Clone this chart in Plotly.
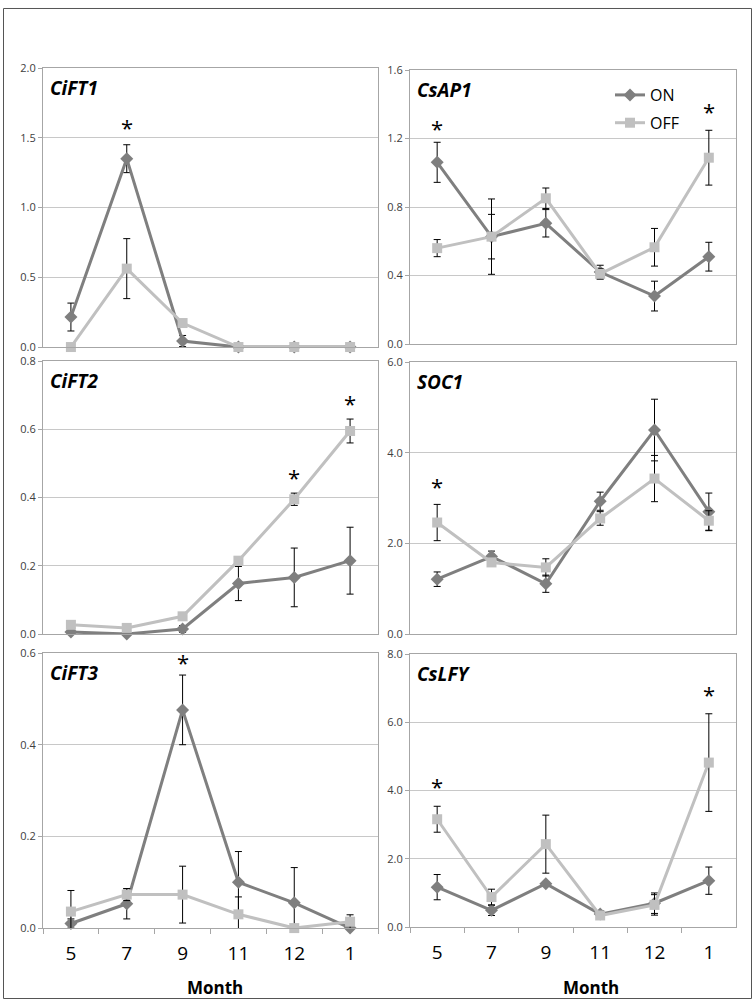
import plotly.graph_objects as go

W, H = 756, 1006
# the photographed page appears as y_shot = 8 + 0.985 * y_page; positions below
# are given in reference-image pixels and mapped back to page pixels.
OY, SY = 8.0, 0.985

months = ['5', '7', '9', '11', '12', '1']

# CiFT1
cift1_on = [0.215, 1.35, 0.043, 0.0, 0.0, 0.0]
cift1_on_err = [0.10, 0.10, 0.04, 0.0, 0.0, 0.0]
cift1_off = [0.0, 0.562, 0.172, 0.0, 0.0, 0.0]
cift1_off_err = [0.0, 0.215, 0.0, 0.0, 0.0, 0.0]
cift1_stars = [('7', 1.58)]

# CsAP1
csap1_on = [1.061, 0.627, 0.705, 0.42, 0.28, 0.51]
csap1_on_err = [0.117, 0.13, 0.08, 0.04, 0.087, 0.084]
csap1_off = [0.56, 0.627, 0.851, 0.41, 0.565, 1.088]
csap1_off_err = [0.05, 0.22, 0.06, 0.03, 0.11, 0.16]
csap1_stars = [('5', 1.26), ('1', 1.36)]

# CiFT2
cift2_on = [0.006, 0.0, 0.015, 0.148, 0.166, 0.215]
cift2_on_err = [0.005, 0.003, 0.01, 0.05, 0.086, 0.098]
cift2_off = [0.027, 0.018, 0.052, 0.215, 0.395, 0.595]
cift2_off_err = [0.005, 0.005, 0.005, 0.01, 0.018, 0.035]
cift2_stars = [('12', 0.46), ('1', 0.677)]

# SOC1
soc1_on = [1.21, 1.71, 1.11, 2.93, 4.5, 2.70]
soc1_on_err = [0.16, 0.12, 0.19, 0.2, 0.68, 0.41]
soc1_off = [2.46, 1.58, 1.47, 2.55, 3.43, 2.5]
soc1_off_err = [0.40, 0.06, 0.19, 0.15, 0.51, 0.22]
soc1_stars = [('5', 3.26)]

# CiFT3
cift3_on = [0.01, 0.053, 0.476, 0.1, 0.055, 0.0]
cift3_on_err = [0.01, 0.033, 0.076, 0.067, 0.077, 0.005]
cift3_off = [0.036, 0.073, 0.073, 0.03, 0.0, 0.014]
cift3_off_err = [0.046, 0.013, 0.062, 0.038, 0.0, 0.015]
cift3_stars = [('9', 0.58)]

# CsLFY
cslfy_on = [1.17, 0.49, 1.27, 0.38, 0.70, 1.36]
cslfy_on_err = [0.37, 0.15, 0.05, 0.1, 0.3, 0.4]
cslfy_off = [3.16, 0.88, 2.43, 0.34, 0.65, 4.82]
cslfy_off_err = [0.38, 0.23, 0.85, 0.1, 0.3, 1.43]
cslfy_stars = [('5', 4.13), ('1', 6.83)]

ON_COLOR = '#7f7f7f'
OFF_COLOR = '#c0c0c0'
FRAME = '#a6a6a6'
GRID = '#c8c8c8'
FONT = 'Open Sans'


def px_x(p):
    return min(max(p / W, 0.0), 1.0)


def page_y(p):
    return min(max((p - OY) / SY, 0.5), H - 0.5)


def px_y(p):
    return 1 - page_y(p) / H


panels = [
    dict(name='CiFT1', on=cift1_on, on_err=cift1_on_err, off=cift1_off, off_err=cift1_off_err,
         stars=cift1_stars, yr=[0, 2.0], dt=0.5, xd=(43, 378), yd=(68, 347), bottom=False),
    dict(name='CsAP1', on=csap1_on, on_err=csap1_on_err, off=csap1_off, off_err=csap1_off_err,
         stars=csap1_stars, yr=[0, 1.6], dt=0.4, xd=(410, 736), yd=(70, 344), bottom=False),
    dict(name='CiFT2', on=cift2_on, on_err=cift2_on_err, off=cift2_off, off_err=cift2_off_err,
         stars=cift2_stars, yr=[0, 0.8], dt=0.2, xd=(43, 378), yd=(361, 634), bottom=False),
    dict(name='SOC1', on=soc1_on, on_err=soc1_on_err, off=soc1_off, off_err=soc1_off_err,
         stars=soc1_stars, yr=[0, 6.0], dt=2.0, xd=(410, 736), yd=(362, 634), bottom=False),
    dict(name='CiFT3', on=cift3_on, on_err=cift3_on_err, off=cift3_off, off_err=cift3_off_err,
         stars=cift3_stars, yr=[0, 0.6], dt=0.2, xd=(43, 378), yd=(653, 928), bottom=True),
    dict(name='CsLFY', on=cslfy_on, on_err=cslfy_on_err, off=cslfy_off, off_err=cslfy_off_err,
         stars=cslfy_stars, yr=[0, 8.0], dt=2.0, xd=(410, 736), yd=(654, 927), bottom=True),
]

fig = go.Figure()
annotations = []
layout = {}

for i, p in enumerate(panels):
    k = '' if i == 0 else str(i + 1)
    xa, ya = 'x' + k, 'y' + k
    show_leg = (p['name'] == 'CsAP1')
    fig.add_trace(go.Scatter(
        x=months, y=p['on'], xaxis=xa, yaxis=ya, name='ON', legendgroup='on',
        mode='lines+markers', showlegend=show_leg, cliponaxis=False,
        line=dict(color=ON_COLOR, width=3),
        marker=dict(symbol='diamond', size=10, color=ON_COLOR),
        error_y=dict(type='data', array=p['on_err'], color='#000000', thickness=1, width=3.5),
    ))
    fig.add_trace(go.Scatter(
        x=months, y=p['off'], xaxis=xa, yaxis=ya, name='OFF', legendgroup='off',
        mode='lines+markers', showlegend=show_leg, cliponaxis=False,
        line=dict(color=OFF_COLOR, width=3),
        marker=dict(symbol='square', size=10, color=OFF_COLOR),
        error_y=dict(type='data', array=p['off_err'], color='#000000', thickness=1, width=3.5),
    ))

    xaxis = dict(
        domain=[px_x(p['xd'][0]), px_x(p['xd'][1])], anchor=ya, type='category',
        categoryorder='array', categoryarray=months,
        range=[-0.5, 5.5], showgrid=False, zeroline=False,
        showline=True, mirror=True, linecolor=FRAME, linewidth=1,
    )
    if p['bottom']:
        xaxis.update(ticks='outside', ticklen=5, tickcolor=FRAME, tickson='boundaries',
                     showticklabels=True, ticklabelstandoff=8,
                     tickfont=dict(family=FONT, size=19, color='#000000'))
    else:
        xaxis.update(ticks='', showticklabels=False)
    yaxis = dict(
        domain=[px_y(p['yd'][1]), px_y(p['yd'][0])], anchor=xa,
        range=p['yr'], dtick=p['dt'], tick0=0, tickformat='.1f',
        showgrid=True, gridcolor=GRID, gridwidth=1, zeroline=False,
        showline=True, mirror=True, linecolor=FRAME, linewidth=1,
        ticks='outside', ticklen=4, tickcolor=FRAME,
        tickfont=dict(family=FONT, size=11, color='#404040'),
    )
    layout['xaxis' + k] = xaxis
    layout['yaxis' + k] = yaxis

    annotations.append(dict(
        x=px_x(p['xd'][0] + 5), y=px_y(p['yd'][0] + 20), xref='paper', yref='paper',
        xanchor='left', yanchor='middle', showarrow=False,
        text='<b><i>' + p['name'] + '</i></b>',
        font=dict(family=FONT, size=19, color='#000000'),
    ))
    for m, yv in p['stars']:
        annotations.append(dict(
            x=months.index(m), y=yv, xref=xa, yref=ya, text='*', showarrow=False,
            xanchor='center', yanchor='middle', yshift=0,
            font=dict(family=FONT, size=22, color='#000000'),
        ))

for cx in (215, 591):
    annotations.append(dict(
        x=px_x(cx), y=px_y(987), xref='paper', yref='paper', text='<b>Month</b>',
        showarrow=False, xanchor='center', yanchor='middle',
        font=dict(family=FONT, size=17, color='#000000'),
    ))

shapes = [dict(type='rect', xref='paper', yref='paper',
               x0=px_x(3.5), x1=px_x(751.5), y0=px_y(1002), y1=px_y(3),
               line=dict(color='#555555', width=1), fillcolor='rgba(0,0,0,0)', layer='below')]

fig.update_layout(
    width=W, height=H,
    margin=dict(l=0, r=0, t=0, b=0),
    paper_bgcolor='#ffffff', plot_bgcolor='#ffffff',
    showlegend=True,
    legend=dict(x=px_x(610), y=px_y(78), xanchor='left', yanchor='top',
                bgcolor='rgba(0,0,0,0)', font=dict(family=FONT, size=16, color='#000000'),
                traceorder='grouped', tracegroupgap=4, itemwidth=30),
    annotations=annotations,
    shapes=shapes,
    **layout,
)

post = ("var gd=document.getElementById('{plot_id}');"
        "document.documentElement.style.margin='0';"
        "document.body.style.margin='0';document.body.style.overflow='hidden';"
        "gd.style.position='fixed';gd.style.left='0px';gd.style.top='0px';")

fig.write_html('out.html', post_script=post, config={'displayModeBar': False})
